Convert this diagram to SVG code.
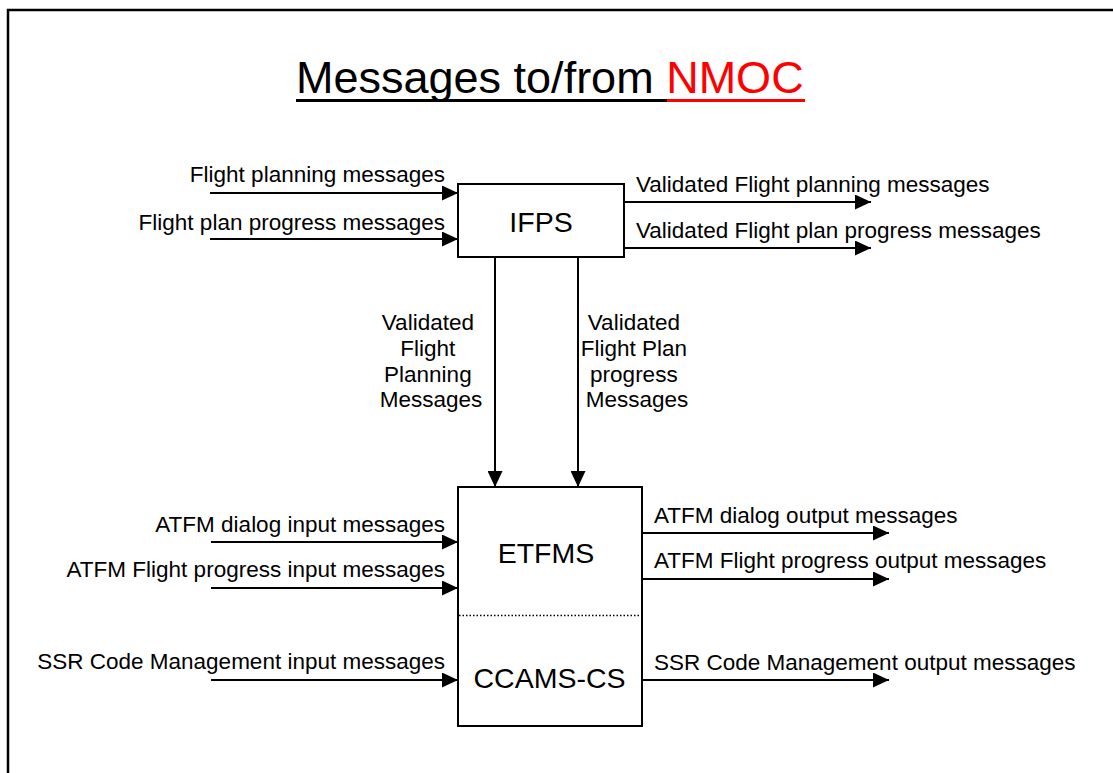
<svg xmlns="http://www.w3.org/2000/svg" width="1113" height="773" viewBox="0 0 1113 773">
  <style>
    .lbl { font-family: "Liberation Sans", Arial, sans-serif; font-size: 22.5px; fill: #000; }
    .box { fill: #fff; stroke: #000; stroke-width: 2; }
    .name { font-family: "Liberation Sans", Arial, sans-serif; font-size: 28.5px; fill: #000; text-anchor: middle; }
    .arr { stroke: #000; stroke-width: 2; fill: none; marker-end: url(#ah); }
    .title { font-family: "Liberation Sans", Arial, sans-serif; font-size: 45px; }
  </style>
  <defs>
    <marker id="ah" markerUnits="userSpaceOnUse" markerWidth="17" markerHeight="15" refX="16" refY="7.5" orient="auto">
      <path d="M0,0 L16,7.5 L0,15 Z" fill="#000"/>
    </marker>
  </defs>
  <rect x="0" y="0" width="1113" height="773" fill="#fff"/>
  <rect x="8" y="10" width="1130" height="800" fill="none" stroke="#000" stroke-width="2.5"/>

  <g id="title">
    <text class="title" x="296" y="92.5"><tspan fill="#000">Messages to/from </tspan><tspan fill="#ff0000">NMOC</tspan></text>
    <line x1="296" y1="100.5" x2="667" y2="100.5" stroke="#000" stroke-width="3"/>
    <line x1="667" y1="100.5" x2="805" y2="100.5" stroke="#ff0000" stroke-width="3"/>
  </g>

  <g id="connectors">
    <line class="arr" x1="210" y1="193" x2="458" y2="193"/>
    <line class="arr" x1="210" y1="239" x2="458" y2="239"/>
    <line class="arr" x1="624" y1="202" x2="871" y2="202"/>
    <line class="arr" x1="624" y1="248" x2="871" y2="248"/>
    <line class="arr" x1="495" y1="257" x2="495" y2="487"/>
    <line class="arr" x1="578" y1="257" x2="578" y2="487"/>
    <line class="arr" x1="211" y1="542" x2="458" y2="542"/>
    <line class="arr" x1="211" y1="588" x2="458" y2="588"/>
    <line class="arr" x1="211" y1="680" x2="458" y2="680"/>
    <line class="arr" x1="642" y1="533" x2="889" y2="533"/>
    <line class="arr" x1="642" y1="579" x2="889" y2="579"/>
    <line class="arr" x1="642" y1="680" x2="889" y2="680"/>
  </g>

  <g id="labels">
    <text class="lbl" x="445" y="182" text-anchor="end">Flight planning messages</text>
    <text class="lbl" x="445" y="230" text-anchor="end">Flight plan progress messages</text>
    <text class="lbl" x="636" y="192">Validated Flight planning messages</text>
    <text class="lbl" x="636" y="238">Validated Flight plan progress messages</text>
    <text class="lbl" text-anchor="middle">
      <tspan x="431" y="330">Validated</tspan>
      <tspan x="431" y="356">Flight</tspan>
      <tspan x="431" y="382">Planning</tspan>
      <tspan x="431" y="407">Messages</tspan>
    </text>
    <text class="lbl" text-anchor="middle">
      <tspan x="637" y="330">Validated</tspan>
      <tspan x="637" y="356">Flight Plan</tspan>
      <tspan x="637" y="382">progress</tspan>
      <tspan x="637" y="407">Messages</tspan>
    </text>
    <text class="lbl" x="445" y="532" text-anchor="end">ATFM dialog input messages</text>
    <text class="lbl" x="445" y="577" text-anchor="end">ATFM Flight progress input messages</text>
    <text class="lbl" x="445" y="669" text-anchor="end">SSR Code Management input messages</text>
    <text class="lbl" x="654" y="523">ATFM dialog output messages</text>
    <text class="lbl" x="654" y="568">ATFM Flight progress output messages</text>
    <text class="lbl" x="654" y="670">SSR Code Management output messages</text>
  </g>

  <g id="ifps">
    <rect class="box" x="458" y="184" width="166" height="73"/>
    <text class="name" x="541" y="231.5">IFPS</text>
  </g>

  <g id="etfms">
    <rect class="box" x="458" y="487" width="184" height="239"/>
    <line x1="459" y1="615.5" x2="641" y2="615.5" stroke="#000" stroke-width="1.5" stroke-dasharray="1.5 2"/>
    <text class="name" x="546" y="563">ETFMS</text>
    <text class="name" x="549.5" y="688">CCAMS-CS</text>
  </g>
</svg>
